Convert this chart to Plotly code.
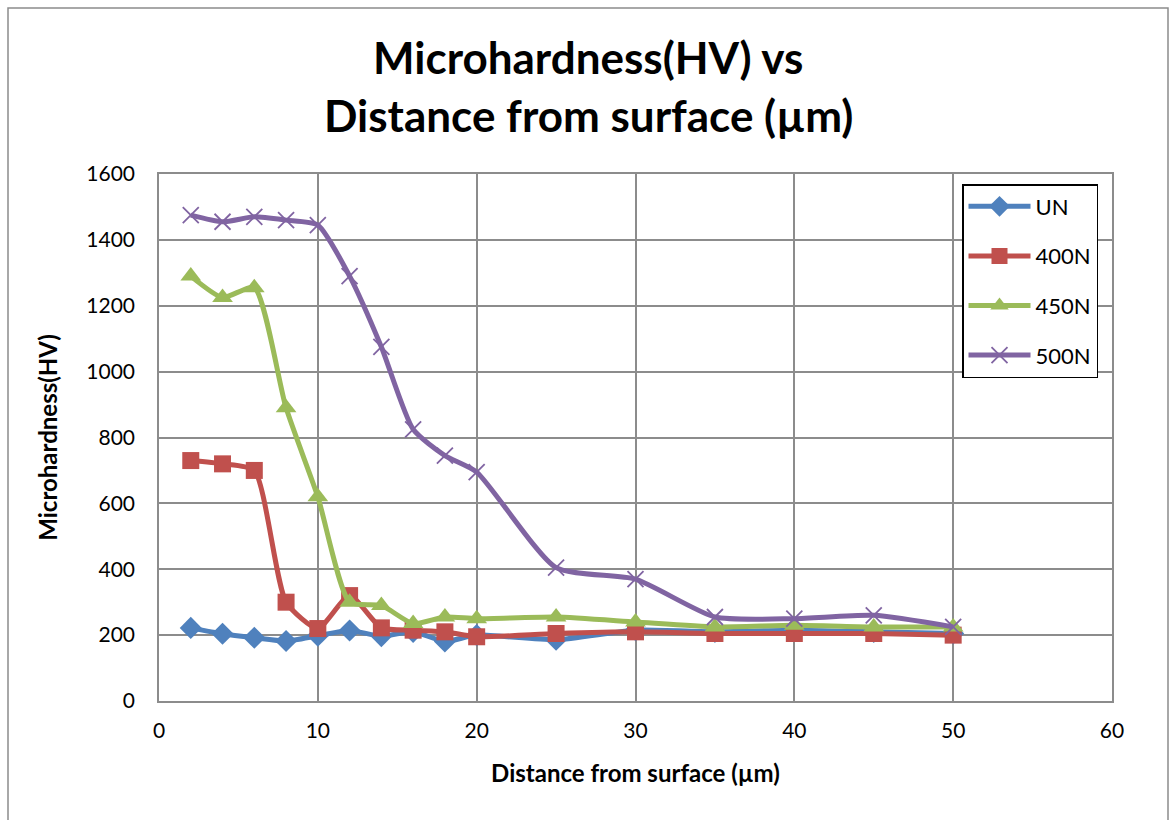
import plotly.graph_objects as go

distance = [2, 4, 6, 8, 10, 12, 14, 16, 18, 20, 25, 30, 35, 40, 45, 50]
un = [222, 204, 192, 182, 198, 214, 197, 210, 181, 200, 186, 215, 210, 215, 210, 205]
n400 = [730, 720, 700, 300, 220, 320, 222, 215, 210, 195, 205, 210, 205, 205, 205, 200]
n450 = [1290, 1225, 1255, 890, 620, 300, 290, 235, 255, 250, 255, 240, 225, 230, 225, 225]
n500 = [1475, 1455, 1470, 1460, 1445, 1290, 1075, 825, 745, 695, 405, 370, 255, 250, 260, 225]

series = [
    ("UN", un, "#4F81BD", "diamond", 17, 0),
    ("400N", n400, "#C0504D", "square", 17, 0),
    ("450N", n450, "#9BBB59", "triangle-up", 18, 0),
    ("500N", n500, "#8064A2", "x-thin-open", 16, 1.8),
]

fig = go.Figure()
for name, ys, color, sym, size, lw in series:
    fig.add_trace(go.Scatter(
        x=distance, y=ys, name=name, mode="lines+markers", legendgroup=name,
        line=dict(color=color, width=5, shape="spline", smoothing=0.6),
        marker=dict(symbol=sym, size=size, color=color,
                    line=dict(color=color, width=lw)),
    ))

W, H = 1171, 820
L, R, T, B = 159, 1112, 174, 701
pw, ph = R - L, B - T

def px(x):
    return (x - L) / pw

def py(y):
    return (B - y) / ph

FONT = "Lato, Open Sans, sans-serif"

fig.update_layout(
    width=W, height=H,
    margin=dict(l=L, r=W - R, t=T, b=H - B),
    paper_bgcolor="white", plot_bgcolor="white",
    font=dict(family=FONT, color="black"),
    showlegend=True,
    legend=dict(
        x=px(962), y=py(184), xanchor="left", yanchor="top",
        bordercolor="black", borderwidth=1.5, bgcolor="white",
        font=dict(size=22, family=FONT),
        itemwidth=62, tracegroupgap=18,
    ),
    xaxis=dict(
        range=[0, 60], dtick=10, tick0=0,
        showgrid=True, gridcolor="#8c8c8c", gridwidth=1.5,
        showline=True, linecolor="#8c8c8c", linewidth=1.5, mirror=True,
        zeroline=False, ticklabelstandoff=10,
        tickfont=dict(size=21),
        title=dict(text="<b>Distance from surface (µm)</b>", font=dict(size=24), standoff=24),
    ),
    yaxis=dict(
        range=[0, 1600], dtick=200, tick0=0,
        showgrid=True, gridcolor="#8c8c8c", gridwidth=1.5,
        showline=True, linecolor="#8c8c8c", linewidth=1.5, mirror=True,
        zeroline=False, ticklabelstandoff=18,
        tickfont=dict(size=21),
        title=dict(text="<b>Microhardness(HV)</b>", font=dict(size=24), standoff=22),
    ),
    annotations=[
        dict(text="<b>Microhardness(HV) vs</b>", xref="paper", yref="paper",
             x=px(588), y=py(57), xanchor="center", yanchor="middle",
             showarrow=False, font=dict(size=44, family=FONT)),
        dict(text="<b>Distance from surface (µm)</b>", xref="paper", yref="paper",
             x=px(588), y=py(115), xanchor="center", yanchor="middle",
             showarrow=False, font=dict(size=44, family=FONT)),
    ],
    shapes=[dict(
        type="rect", xref="paper", yref="paper",
        x0=px(8), x1=px(1168), y0=py(840), y1=py(8),
        line=dict(color="#8c8c8c", width=1.5), fillcolor="rgba(0,0,0,0)",
        layer="below",
    )],
)

fig.write_html("out.html")
